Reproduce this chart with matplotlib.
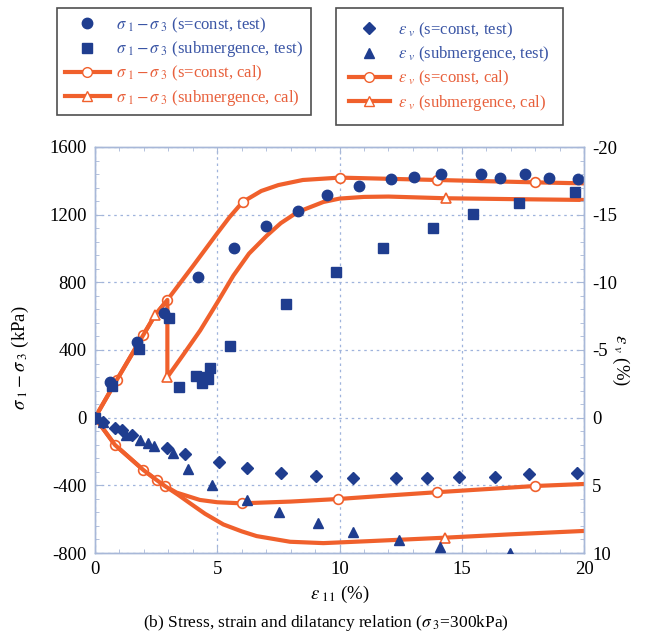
import matplotlib
matplotlib.use("Agg")
import matplotlib.pyplot as plt
from matplotlib.lines import Line2D
from matplotlib.ticker import MultipleLocator

# ---------------- data ----------------
# stress, s=const, test
sc_test_eps = [0, 0.6, 1.7, 2.82, 4.2, 5.7, 7.0, 8.3, 9.5, 10.8, 12.1, 13.05, 14.15, 15.8, 16.55, 17.6, 18.55, 19.75]
sc_test_sig = [0, 213, 446, 620, 832, 1005, 1133, 1222, 1314, 1370, 1411, 1421, 1439, 1439, 1415, 1439, 1419, 1409]
# stress, submergence, test
sub_test_eps = [0, 0.7, 1.8, 3.03, 3.45, 4.13, 4.38, 4.43, 4.64, 4.70, 5.52, 7.81, 9.84, 11.79, 13.84, 15.47, 17.35, 19.63]
sub_test_sig = [0, 185, 404, 591, 183, 246, 203, 243, 227, 292, 425, 674, 859, 1001, 1119, 1204, 1271, 1336]
# volumetric strain, s=const, test
ev_sc_test_eps = [0, 0.34, 0.82, 1.1, 1.5, 2.93, 3.68, 5.08, 6.23, 7.61, 9.04, 10.57, 12.31, 13.59, 14.89, 16.36, 17.75, 19.73]
ev_sc_test_ev = [0, 0.3, 0.78, 0.91, 1.3, 2.26, 2.68, 3.3, 3.69, 4.11, 4.31, 4.43, 4.48, 4.43, 4.4, 4.35, 4.18, 4.06]
# volumetric strain, submergence, test
ev_sub_test_eps = [0, 0.34, 1.27, 1.84, 2.18, 2.41, 3.2, 3.82, 4.8, 6.2, 7.54, 9.11, 10.57, 12.43, 14.11, 16.97]
ev_sub_test_ev = [0, 0.35, 1.28, 1.65, 1.85, 2.1, 2.64, 3.8, 4.97, 6.08, 6.94, 7.8, 8.42, 9.04, 9.53, 10.0]

# stress, s=const, calculated
sc_cal_eps = [0, 0.89, 1.98, 2.45, 2.96, 4.0, 5.0, 5.5, 6.04, 6.8, 7.5, 8.5, 10, 12, 14, 16, 18, 20]
sc_cal_sig = [0, 223, 490, 605, 696, 895, 1090, 1185, 1275, 1340, 1375, 1405, 1419, 1412, 1405, 1398, 1391, 1385]
# stress, submergence, calculated
sub_cal_eps = [0, 0.89, 1.98, 2.45, 2.96, 2.96, 3.6, 4.3, 5.0, 5.66, 6.3, 7.02, 7.6, 8.28, 9.34, 10, 11, 12, 14.34, 17, 20]
sub_cal_sig = [0, 223, 490, 605, 696, 240, 370, 515, 680, 840, 970, 1075, 1150, 1215, 1275, 1295, 1305, 1307, 1297, 1292, 1287]
# volumetric strain, s=const, calculated
ev_sc_cal_eps = [0, 0.82, 1.98, 2.52, 2.86, 3.34, 4.29, 5.0, 6.0, 8.0, 9.95, 12, 13.97, 16, 18, 20]
ev_sc_cal_ev = [0, 2.02, 3.87, 4.61, 5.05, 5.54, 6.08, 6.25, 6.33, 6.2, 6.01, 5.75, 5.51, 5.28, 5.05, 4.9]
# volumetric strain, submergence, calculated
ev_sub_cal_eps = [0, 0.82, 1.98, 2.52, 2.86, 3.4, 3.89, 4.5, 5.25, 6.0, 6.61, 7.98, 9.34, 11.25, 14.3, 17, 20]
ev_sub_cal_ev = [0, 2.02, 3.87, 4.61, 5.05, 5.7, 6.33, 7.1, 7.89, 8.4, 8.75, 9.17, 9.27, 9.12, 8.87, 8.62, 8.37]

x_ticks = [0, 5, 10, 15, 20]
y_ticks = [-800, -400, 0, 400, 800, 1200, 1600]
y2_ticks = [-20, -15, -10, -5, 0, 5, 10]

# ---------------- style ----------------
plt.rcParams['font.family'] = ['Liberation Serif', 'DejaVu Serif']
plt.rcParams['mathtext.fontset'] = 'stix'
plt.rcParams['axes.unicode_minus'] = False

BLUE = '#1f3d8f'
BLUE_TXT = '#3a55a5'
RED = '#f0602c'
RED_TXT = '#e8603c'
SPINE = '#a8b8d8'
GRID = '#9fb3dc'

fig = plt.figure(figsize=(6.51, 6.40), dpi=100)
ax = fig.add_axes([95 / 651, 1 - 553 / 640, (584 - 95) / 651, (553 - 147) / 640])
ax2 = ax.twinx()

# calculated curves (stress)
ax.plot(sc_cal_eps, sc_cal_sig, color=RED, lw=3, zorder=2,
        marker='o', ms=7, mfc='white', mec=RED, mew=1.2,
        markevery=[1, 2, 4, 8, 12, 14, 16])
ax.plot(sub_cal_eps, sub_cal_sig, color=RED, lw=3, zorder=2,
        marker='^', ms=7, mfc='white', mec=RED, mew=1.2,
        markevery=[3, 5, 18])
# test points (stress)
ax.plot(sc_test_eps, sc_test_sig, ls='none', marker='o', ms=7.5, color=BLUE, zorder=3)
ax.plot(sub_test_eps, sub_test_sig, ls='none', marker='s', ms=7, color=BLUE, zorder=3)

# calculated curves (volumetric)
ax2.plot(ev_sc_cal_eps, ev_sc_cal_ev, color=RED, lw=3, zorder=2,
         marker='o', ms=7, mfc='white', mec=RED, mew=1.2,
         markevery=[1, 2, 3, 4, 8, 10, 12, 14])
ax2.plot(ev_sub_cal_eps, ev_sub_cal_ev, color=RED, lw=3, zorder=2,
         marker='^', ms=7, mfc='white', mec=RED, mew=1.2,
         markevery=[14])
ax2.plot(ev_sc_test_eps, ev_sc_test_ev, ls='none', marker='D', ms=6, color=BLUE, zorder=3)
ax2.plot(ev_sub_test_eps, ev_sub_test_ev, ls='none', marker='^', ms=7, color=BLUE, zorder=3)

# axes limits / ticks
ax.set_xlim(0, 20)
ax.set_ylim(-800, 1600)
ax2.set_ylim(10, -20)
ax.set_xticks(x_ticks)
ax.set_yticks(y_ticks)
ax2.set_yticks(y2_ticks)
ax.xaxis.set_minor_locator(MultipleLocator(1))
ax.yaxis.set_minor_locator(MultipleLocator(80))
ax2.yaxis.set_minor_locator(MultipleLocator(1))

for a in (ax, ax2):
    for s in a.spines.values():
        s.set_color(SPINE)
        s.set_linewidth(1.0)
ax.tick_params(which='both', direction='in', color=SPINE, top=True, labelsize=13.5, pad=6)
ax.tick_params(which='major', length=5)
ax.tick_params(which='minor', length=3)
ax2.tick_params(which='both', direction='in', color=SPINE, labelsize=13.5, pad=6)
ax2.tick_params(which='major', length=5)
ax2.tick_params(which='minor', length=3)

ax.grid(True, which='major', ls=(0, (2, 3)), color=GRID, lw=0.9)
ax.set_axisbelow(True)

ax.set_xlabel(r'$\varepsilon_{\ 11}$ (%)', fontsize=13.5, labelpad=4)
ax.set_ylabel(r'$\sigma_{\ 1}-\sigma_{\ 3}$ (kPa)', fontsize=13.5, va='center', ha='center')
ax.yaxis.set_label_coords((20 - 95) / 489, 0.48)
ax2.set_ylabel(r'$\varepsilon_{\ v}$ (%)', fontsize=13.5, rotation=270, va='center', ha='center')
ax2.yaxis.set_label_coords((621 - 95) / 489, 0.475)

fig.text(0.5, 1 - 623 / 640, r'(b) Stress, strain and dilatancy relation ($\sigma_{\ 3}$=300kPa)',
         ha='center', va='center', fontsize=12.5)

# legends
def mk_legend(handles, labels, colors, x0, y0, bpad, hlen, tpad):
    leg = fig.legend(handles, labels, loc='upper left', bbox_to_anchor=(x0, y0),
                     fontsize=12.0, frameon=True, fancybox=False, edgecolor='#222222',
                     handlelength=hlen, handletextpad=tpad, borderpad=bpad, labelspacing=0.28,
                     borderaxespad=0)
    leg.get_frame().set_linewidth(1.2)
    for t, c in zip(leg.get_texts(), colors):
        t.set_color(c)
    return leg

h1 = [Line2D([], [], ls='none', marker='o', ms=7.5, color=BLUE),
      Line2D([], [], ls='none', marker='s', ms=7, color=BLUE),
      Line2D([], [], color=RED, lw=3, marker='o', ms=7, mfc='white', mec=RED),
      Line2D([], [], color=RED, lw=3, marker='^', ms=7, mfc='white', mec=RED)]
l1 = [r'$\sigma_{\ 1}-\sigma_{\ 3}$ (s=const, test)',
      r'$\sigma_{\ 1}-\sigma_{\ 3}$ (submergence, test)',
      r'$\sigma_{\ 1}-\sigma_{\ 3}$ (s=const, cal)',
      r'$\sigma_{\ 1}-\sigma_{\ 3}$ (submergence, cal)']
h2 = [Line2D([], [], ls='none', marker='D', ms=6, color=BLUE),
      Line2D([], [], ls='none', marker='^', ms=7, color=BLUE),
      Line2D([], [], color=RED, lw=3, marker='o', ms=7, mfc='white', mec=RED),
      Line2D([], [], color=RED, lw=3, marker='^', ms=7, mfc='white', mec=RED)]
l2 = [r'$\varepsilon_{\ v}$ (s=const, test)',
      r'$\varepsilon_{\ v}$ (submergence, test)',
      r'$\varepsilon_{\ v}$ (s=const, cal)',
      r'$\varepsilon_{\ v}$ (submergence, cal)']
cols = [BLUE_TXT, BLUE_TXT, RED_TXT, RED_TXT]
mk_legend(h1, l1, cols, 57 / 651, 1 - 8 / 640, 0.45, 2.7, 0.4)
mk_legend(h2, l2, cols, 336 / 651, 1 - 8 / 640, 0.75, 2.5, 0.5)

fig.savefig('out.png', dpi=100)
